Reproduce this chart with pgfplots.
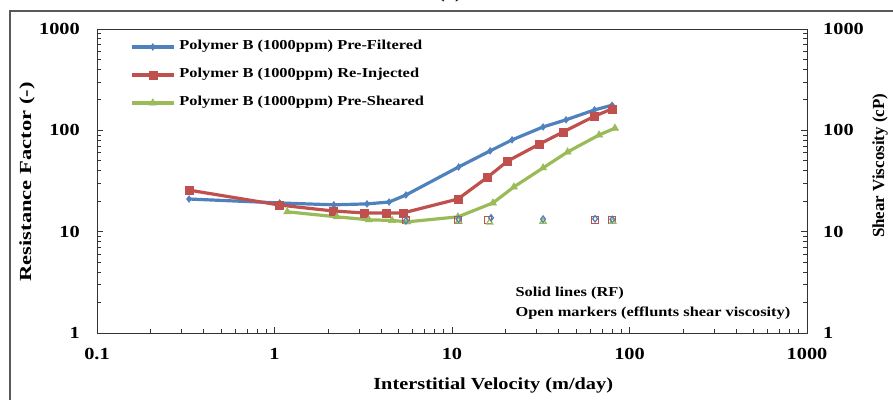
\documentclass[border=0pt]{standalone}
\usepackage{fontspec}
\setmainfont{Liberation Serif}
\newfontfamily\hfont{Liberation Serif}[FakeStretch=1.2]
\newfontfamily\lfont{Liberation Serif}[FakeStretch=1.33]
\usepackage{pgfplots}
\pgfplotsset{compat=1.18}
\definecolor{cb}{RGB}{79,129,189}
\definecolor{cr}{RGB}{192,80,77}
\definecolor{cg}{RGB}{155,187,89}
\begin{document}
\begin{tikzpicture}
\useasboundingbox (0,0) rectangle (893bp,400bp);
\draw[black!65, line width=1.2bp] (10bp,-5bp) -- (10bp,389bp) -- (900bp,389bp);
\node[anchor=base, font=\hfont\bfseries\fontsize{17}{20}\selectfont] at (450bp,401bp) {(a)};
\begin{axis}[
  scale only axis, width=710bp, height=304bp, at={(97bp,67bp)}, anchor=south west,
  xmode=log, ymode=log, xmin=0.1, xmax=1000, ymin=1, ymax=1000,
  tick align=inside, major tick length=6bp, minor tick length=4bp,
  axis line style={black!80, line width=0.9bp},
  every tick/.style={black!80, line width=0.8bp},
  ticklabel style={font=\hfont\bfseries\fontsize{17}{20}\selectfont, inner sep=0pt},
  ytick={1,10,100,1000}, yticklabels={1,10,100,1000},
  xtick={0.1,1,10,100,1000}, xticklabels={0.1,1,10,100,1000},
  xtick pos=bottom, ytick pos=left,
  xticklabel style={anchor=north, yshift=-15bp},
  yticklabel style={anchor=east, xshift=-17bp},
  xlabel={Interstitial Velocity (m/day)},
  ylabel={Resistance Factor (-)},
  every axis x label/.style={at={(axis description cs:0.558,-0.171)}, anchor=center, font=\hfont\bfseries\fontsize{17}{20}\selectfont},
  every axis y label/.style={at={(axis description cs:-0.0986,0.497)}, anchor=center, rotate=90, font=\lfont\bfseries\fontsize{17}{20}\selectfont},
  legend cell align=left,
  legend style={draw=none, fill=none, at={(axis description cs:0.0465,0.963)}, anchor=north west,
    inner sep=0pt, row sep=15bp, column sep=4bp,
    font=\hfont\bfseries\fontsize{13.7}{16}\selectfont,
    nodes={inner sep=0pt, text height=9.5bp, text depth=3.5bp}},
  legend image code/.code={\draw[mark repeat=2,mark phase=2] plot coordinates {(0bp,0bp)(21bp,0bp)(42bp,0bp)};},
]
\addplot[cb, line width=3.2bp, mark=diamond*, mark size=3.4bp, mark options={solid, line width=0.5bp}] coordinates {
(0.33,21) (1.07,19.2) (2.16,18.4) (3.32,18.8) (4.42,19.6) (5.5,23) (10.9,43.5) (16.4,62.7) (21.8,80.5) (32.6,108) (43.9,127) (63.5,159) (79.8,177)};
\addlegendentry{Polymer B (1000ppm) Pre-Filtered}
\addplot[cr, line width=3.2bp, mark=square*, mark size=4bp, mark options={solid, line width=0.5bp}] coordinates {
(0.33,25.7) (1.07,18.3) (2.14,16.0) (3.2,15.3) (4.24,15.3) (5.3,15.3) (10.8,21) (15.9,34.6) (20.6,49.8) (31.2,73.4) (42.3,96.4) (63.5,138) (80,163)};
\addlegendentry{Polymer B (1000ppm) Re-Injected}
\addplot[cg, line width=3.2bp, mark=triangle*, mark size=4.2bp, mark options={solid, line width=0.5bp}] coordinates {
(1.18,15.7) (2.25,14.0) (3.4,13.1) (4.6,12.9) (5.6,12.5) (10.8,14.0) (17,19.2) (22.3,27.6) (32.6,42.6) (44.8,61.2) (67.4,90) (82.8,105)};
\addlegendentry{Polymer B (1000ppm) Pre-Sheared}
\addplot[only marks, cr, mark=square, mark size=3.4bp, mark options={line width=1.2bp}, forget plot] coordinates {
(5.5,12.9) (10.8,13.0) (16,13.0) (64,13.0) (80,13.0)};
\addplot[only marks, cg, mark=triangle, mark size=3.6bp, mark options={line width=1.2bp}, forget plot] coordinates {
(5.6,12.5) (10.9,12.7) (16.3,12.4) (32.6,12.6) (80.5,12.6)};
\addplot[only marks, cb, mark=diamond, mark size=3.2bp, mark options={line width=1.2bp}, forget plot] coordinates {
(5.5,12.8) (10.9,13.3) (16.6,13.7) (32.6,13.3) (64,13.4) (80,13.2)};
\end{axis}
\begin{axis}[
  scale only axis, width=710bp, height=304bp, at={(97bp,67bp)}, anchor=south west,
  xmode=log, ymode=log, xmin=0.1, xmax=1000, ymin=1, ymax=1000,
  tick align=inside, major tick length=6bp, minor tick length=4bp,
  axis line style={black!80, line width=0.9bp},
  every tick/.style={black!80, line width=0.8bp},
  ticklabel style={font=\hfont\bfseries\fontsize{17}{20}\selectfont, inner sep=0pt},
  ytick={1,10,100,1000}, yticklabels={1,10,100,1000},
  axis x line=none, axis y line*=right, ytick pos=right,
  yticklabel style={anchor=west, xshift=16bp},
  ylabel={Shear Viscosity (cP)},
  every axis y label/.style={at={(axis description cs:1.103,0.55)}, anchor=center, rotate=90, font=\bfseries\fontsize{17}{20}\selectfont},
]
\addplot[draw=none, forget plot] coordinates {(1,1) (10,10)};
\end{axis}
\node[anchor=base west, font=\hfont\bfseries\fontsize{13.7}{16}\selectfont] at (512bp,103bp) {Solid lines (RF)};
\node[anchor=base west, font=\hfont\bfseries\fontsize{13.7}{16}\selectfont] at (512bp,83bp) {Open markers (efflunts shear viscosity)};
\end{tikzpicture}
\end{document}
